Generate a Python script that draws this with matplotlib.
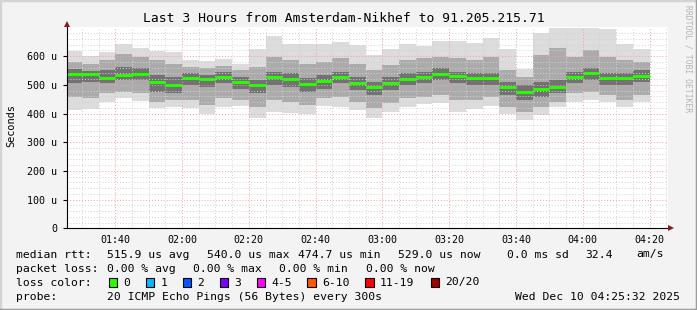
import numpy as np
import pandas as pd
import matplotlib
matplotlib.use("Agg")
import matplotlib.pyplot as plt
from matplotlib.ticker import FixedLocator, FuncFormatter

# 5 minute buckets, end time of each bucket
bucket_end = ["01:30", "01:35", "01:40", "01:45", "01:50", "01:55", "02:00",
              "02:05", "02:10", "02:15", "02:20", "02:25", "02:30", "02:35",
              "02:40", "02:45", "02:50", "02:55", "03:00", "03:05", "03:10",
              "03:15", "03:20", "03:25", "03:30", "03:35", "03:40", "03:45",
              "03:50", "03:55", "04:00", "04:05", "04:10", "04:15", "04:20"]

# median rtt (us)
median = [537, 536, 524, 534, 537, 510, 501, 524, 521, 528, 510, 501, 526, 520,
          502, 514, 528, 508, 493, 508, 521, 527, 537, 529, 523, 523, 493, 476,
          487, 494, 526, 540, 524, 524, 530]
# outer smoke (min / max ping)
smoke_hi = [619, 600, 614, 642, 629, 619, 614, 588, 583, 591, 574, 623, 670, 642,
            642, 642, 648, 638, 603, 624, 642, 636, 653, 653, 646, 664, 623, 554,
            681, 698, 698, 698, 694, 642, 624]
smoke_lo = [412, 414, 441, 453, 444, 419, 421, 418, 400, 421, 426, 385, 406, 403,
            400, 426, 424, 412, 386, 406, 421, 433, 437, 406, 414, 426, 400, 379,
            395, 421, 441, 447, 441, 421, 441]
# middle smoke band
mid_hi = [580, 574, 586, 609, 598, 586, 574, 563, 557, 565, 551, 563, 598, 586,
          574, 580, 592, 574, 551, 569, 586, 592, 598, 592, 586, 598, 551, 528,
          603, 627, 598, 621, 598, 586, 580]
mid_lo = [458, 453, 470, 476, 470, 441, 447, 447, 429, 453, 447, 424, 447, 441,
          429, 453, 458, 441, 418, 435, 453, 458, 464, 447, 447, 458, 424, 406,
          424, 441, 470, 476, 464, 447, 464]
# dark core around the median
core_hi = [554, 549, 551, 561, 557, 534, 528, 540, 534, 545, 528, 516, 545, 540,
           522, 534, 545, 528, 511, 528, 540, 545, 557, 545, 540, 540, 511, 499,
           511, 516, 545, 557, 540, 540, 551]
core_lo = [505, 511, 505, 516, 516, 476, 470, 499, 493, 505, 487, 470, 499, 493,
           476, 487, 505, 482, 464, 482, 499, 505, 516, 505, 499, 499, 464, 447,
           458, 470, 505, 516, 499, 499, 511]

loss_labels = ["0", "1", "2", "3", "4-5", "6-10", "11-19", "20/20"]
loss_colors = ["#26ff00", "#00b8ff", "#0059ff", "#7e00ff", "#ff00ff", "#ff5500",
               "#ff0000", "#a10000"]

W, H = 697, 310
BG = "#f3f3f3"
MONO = "DejaVu Sans Mono"


def minutes(s):
    h, m = s.split(":")
    return int(h) * 60 + int(m)


def fx(x):
    return x / W


def fy(y):
    return 1 - y / H


ends = np.array([minutes(s) for s in bucket_end], dtype=float)
t0 = 85 + 32 / 60.0
t1 = t0 + 180

fig = plt.figure(figsize=(W / 100, H / 100), dpi=100, facecolor=BG)
ax = fig.add_axes([fx(67), fy(228.3), fx(601), 200.9 / H])
ax.set_facecolor("white")

hi = np.array(smoke_hi); lo = np.array(smoke_lo)
ax.bar(ends, hi - lo, bottom=lo, width=-5, align="edge", color="#dcdcdc", lw=0, zorder=1)
ax.bar(ends, np.array(mid_hi) - np.array(mid_lo), bottom=mid_lo, width=-5, align="edge",
       color="#ababab", lw=0, zorder=1.1)
ax.bar(ends, np.array(core_hi) - np.array(core_lo), bottom=core_lo, width=-5, align="edge",
       color="#727272", lw=0, zorder=1.2)
ax.hlines(median, ends - 5, ends, colors="#26ff00", lw=2.1, zorder=3)

ax.set_xlim(t0, t1)
ax.set_ylim(0, 700)

ax.xaxis.set_major_locator(FixedLocator(np.arange(100, 261, 20)))
ax.xaxis.set_minor_locator(FixedLocator(np.arange(90, 266, 5)))
ax.yaxis.set_major_locator(FixedLocator(np.arange(0, 601, 100)))
ax.yaxis.set_minor_locator(FixedLocator(np.arange(0, 700, 20)))
ax.xaxis.set_major_formatter(FuncFormatter(lambda v, p: "%02d:%02d" % (int(v) // 60, int(v) % 60)))
ax.yaxis.set_major_formatter(FuncFormatter(lambda v, p: "0" if v == 0 else "%d u" % v))

ax.set_axisbelow(False)
ax.grid(which="minor", color="#d2d2d2", lw=0.7, ls=(0, (1, 2)))
ax.grid(which="major", color="#f2a0a0", lw=0.7, ls=(0, (1, 2)))

ax.tick_params(which="both", length=0, labelsize=7.2, colors="#000000")
ax.tick_params(axis="y", which="major", length=3, pad=4)
ax.tick_params(axis="x", pad=5)
for lab in ax.get_xticklabels() + ax.get_yticklabels():
    lab.set_family(MONO)
for s in ["top", "right", "left", "bottom"]:
    ax.spines[s].set_visible(False)

# axes with arrow heads
fig.add_artist(plt.Line2D([fx(67), fx(67)], [fy(228.3), fy(25)], color="black", lw=0.8))
fig.add_artist(plt.Line2D([fx(67), fx(670)], [fy(228.3), fy(228.3)], color="black", lw=0.8))
fig.add_artist(plt.Line2D([fx(67)], [fy(23.5)], marker="^", ms=4, color="#8b1a1a", mew=0))
fig.add_artist(plt.Line2D([fx(670.5)], [fy(228.3)], marker=">", ms=4, color="#8b1a1a", mew=0))

fig.text(fx(343.5), fy(19), "Last 3 Hours from Amsterdam-Nikhef to 91.205.215.71",
         ha="center", va="center", family=MONO, fontsize=9.4)
fig.text(fx(11), fy(126), "Seconds", rotation=90, ha="center", va="center",
         family=MONO, fontsize=7.4)
fig.text(fx(688), fy(5), "RRDTOOL / TOBI OETIKER", rotation=270, ha="center", va="top",
         family=MONO, fontsize=5.8, color="#b4b4b4")

fs = 8.2
r1, r2, r3, r4 = 254.5, 268.5, 282.5, 296.5
for x, s in [(16, "median rtt:"), (107.3, "515.9 us avg"), (207.3, "540.0 us max"),
             (298.3, "474.7 us min"), (398.3, "529.0 us now"), (507.3, "0.0 ms sd"),
             (585.7, "32.4"), (636, "am/s")]:
    fig.text(fx(x), fy(r1), s, ha="left", va="center", family=MONO, fontsize=fs)
for x, s in [(16, "packet loss:"), (107.3, "0.00 % avg"), (193.3, "0.00 % max"),
             (279.3, "0.00 % min"), (365.7, "0.00 % now")]:
    fig.text(fx(x), fy(r2), s, ha="left", va="center", family=MONO, fontsize=fs)
fig.text(fx(16), fy(r3), "loss color:", ha="left", va="center", family=MONO, fontsize=fs)
box_x = [108.7, 145.7, 182.7, 219.7, 256.7, 307.3, 365.3, 430.7]
for bx, lab, col in zip(box_x, loss_labels, loss_colors):
    fig.add_artist(plt.Rectangle((fx(bx), fy(r3 + 4.2)), fx(8.5), 8.5 / H, facecolor=col,
                                 edgecolor="black", lw=0.8))
    fig.text(fx(bx + 14.6), fy(r3), lab, ha="left", va="center", family=MONO, fontsize=fs)
fig.text(fx(16), fy(r4), "probe:", ha="left", va="center", family=MONO, fontsize=fs)
fig.text(fx(107.3), fy(r4), "20 ICMP Echo Pings (56 Bytes) every 300s", ha="left",
         va="center", family=MONO, fontsize=fs)
fig.text(fx(680), fy(r4), "Wed Dec 10 04:25:32 2025", ha="right", va="center",
         family=MONO, fontsize=fs)

# 3d frame around the image
fig.add_artist(plt.Line2D([0, 0, 1], [0, 1, 1], color="#d4d4d4", lw=2.5))
fig.add_artist(plt.Line2D([0, 1, 1], [0, 0, 1], color="#9c9c9c", lw=2.5))

fig.savefig("out.png", dpi=100, facecolor=BG)
